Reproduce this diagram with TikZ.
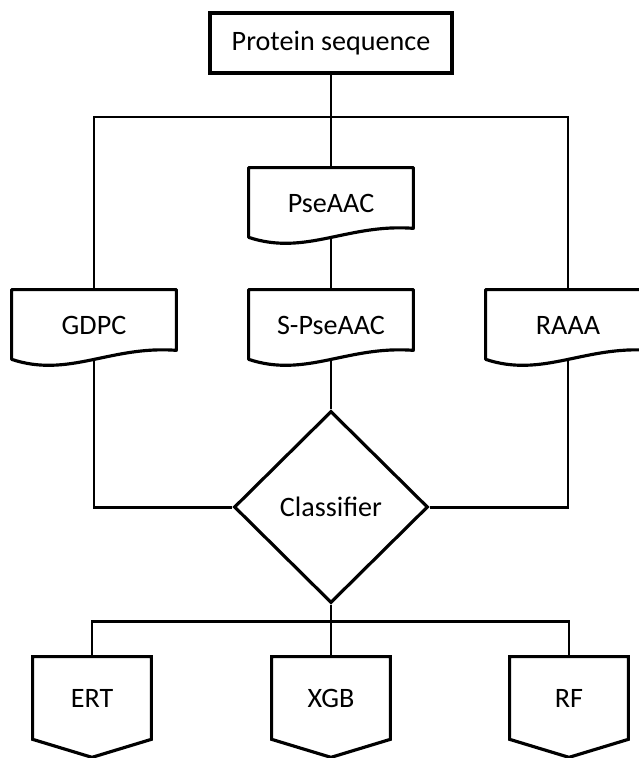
\documentclass[tikz,border=0pt]{standalone}
\usepackage{fontspec}
\setmainfont{Carlito}
\usetikzlibrary{shapes.geometric}

\begin{document}
\begin{tikzpicture}[x=0.02cm, y=-0.02cm,
    every node/.style={font=\fontsize{16}{19}\selectfont, inner sep=0pt},
    box/.style={draw, line width=1.8pt, minimum width=4.84cm, minimum height=1.2cm},
    docbox/.style={minimum width=3.28cm, minimum height=1.4cm},
    endbox/.style={minimum width=2.36cm, minimum height=1.64cm},
    choice/.style={draw, diamond, line width=1.8pt, minimum width=3.88cm, minimum height=3.84cm},
    link/.style={line width=1.7pt}]
  \useasboundingbox (0,0) rectangle (639,758);
  \node[box] (prot) at (331,43) {Protein sequence};
  \node[docbox] (pse) at (331,203) {PseAAC};
  \node[docbox] (gdpc) at (94,325) {GDPC};
  \node[docbox] (spse) at (331,325) {S-PseAAC};
  \node[docbox] (raaa) at (568,325) {RAAA};
  \node[choice] (cls) at (331,507) {Classifier};
  \node[endbox] (ert) at (92,698) {ERT};
  \node[endbox] (xgb) at (331,698) {XGB};
  \node[endbox] (rf) at (569,698) {RF};
  \foreach \n in {pse,gdpc,spse,raaa}{
    \draw[link, line width=1.8pt, line join=round] (\n.north west) -- (\n.north east) -- ([shift={(0,-10)}]\n.south east)
      .. controls ([shift={(-66,-15)}]\n.south east) and ([shift={(57,18)}]\n.south west)
      .. ([shift={(0,-1)}]\n.south west) -- cycle;
  }
  \foreach \n in {ert,xgb,rf}{
    \draw[link, line width=1.8pt] (\n.north west) -- (\n.north east) -- (\n.south east)
      -- ([shift={(0,18)}]\n.south) -- (\n.south west) -- cycle;
  }
  \coordinate (split) at (331,117);
  \coordinate (fork) at (331,621);
  \draw[link] (prot) -- (pse);
  \draw[link] (gdpc.north) |- (split) -| (raaa.north);
  \draw[link] (pse) -- (spse);
  \draw[link] (spse) -- (cls);
  \draw[link] (gdpc.south) |- (cls.west);
  \draw[link] (raaa.south) |- (cls.east);
  \draw[link] (cls.south) -- (fork) -- (xgb.north);
  \draw[link] (ert.north) |- (fork) -| (rf.north);
\end{tikzpicture}
\end{document}
